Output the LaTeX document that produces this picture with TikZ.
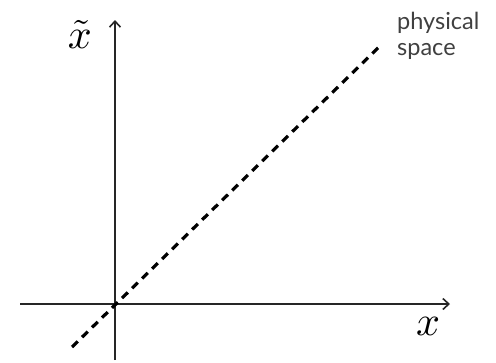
\documentclass[tikz,border=0pt]{standalone}
\usepackage{fontspec}
\newfontfamily\labelfont{Lato}
\usetikzlibrary{arrows.meta}
\begin{document}
\begin{tikzpicture}[x=1pt,y=-1pt,
  axis/.style={line width=1.6pt, draw=black!85, -{Straight Barb[length=6pt,width=11pt,line width=1.6pt]}},
  diag/.style={line width=3.2pt, dash pattern=on 8pt off 6pt},
  mlabel/.style={inner sep=0pt, scale=4.2},
  tlabel/.style={inner sep=0pt, align=left, font=\labelfont\fontsize{23.5}{26}\selectfont, text=black!75}]
\useasboundingbox (0,0) rectangle (496,362);
\coordinate (vb) at (115,360);
\coordinate (vt) at (115,20);
\coordinate (hl) at (20,304);
\coordinate (hr) at (450,304);
\coordinate (dl) at (72,347);
\coordinate (dr) at (382,44);
\draw[axis] (vb) -- (vt);
\draw[axis] (hl) -- (hr);
\draw[diag] (dl) -- (dr);
\node[mlabel] (xt) at (80,34) {$\tilde{x}$};
\node[mlabel] (xx) at (428,326) {$x$};
\node[tlabel, anchor=north west] (ps) at (397,12) {physical\\space};
\end{tikzpicture}
\end{document}
